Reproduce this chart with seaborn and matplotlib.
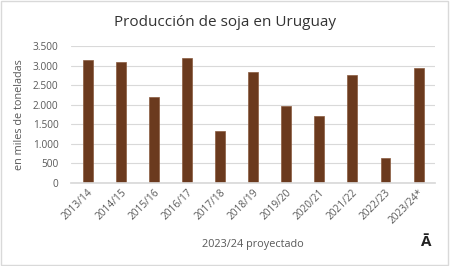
import matplotlib
matplotlib.use("Agg")
import matplotlib.pyplot as plt
import seaborn as sns
import pandas as pd
from matplotlib.ticker import FuncFormatter
from matplotlib.patches import Rectangle

campanas = ["2013/14", "2014/15", "2015/16", "2016/17", "2017/18", "2018/19",
            "2019/20", "2020/21", "2021/22", "2022/23", "2023/24*"]
produccion = [3150, 3100, 2210, 3200, 1330, 2840, 1980, 1705, 2770, 645, 2935]
yticks = [0, 500, 1000, 1500, 2000, 2500, 3000, 3500]

df = pd.DataFrame({"campana": campanas, "produccion": produccion})

sns.set_theme(style="white")
plt.rcParams['font.family'] = ['Open Sans', 'DejaVu Sans']

fig = plt.figure(figsize=(4.5, 2.66), dpi=100)
ax = fig.add_axes([0.158, 0.312, 0.809, 0.515])

sns.barplot(data=df, x="campana", y="produccion", color="#6B3A1E",
            width=0.3, saturation=1, ax=ax, edgecolor="#8a5a3e", linewidth=0.5)

ax.set_ylim(0, 3500)
ax.set_xlim(-0.5, len(campanas) - 0.5)
ax.set_yticks(yticks)
ax.yaxis.set_major_formatter(FuncFormatter(lambda v, p: f"{int(v):,}".replace(",", ".")))
ax.grid(axis="y", color="#D9D9D9", linewidth=0.8)
ax.set_axisbelow(True)
for s in ["top", "right", "left"]:
    ax.spines[s].set_visible(False)
ax.spines["bottom"].set_color("#D9D9D9")
ax.tick_params(axis="both", length=0, colors="#595959", labelsize=7.3)
ax.tick_params(axis="y", pad=9)
ax.tick_params(axis="x", pad=3)
plt.setp(ax.get_xticklabels(), rotation=45, ha="right", rotation_mode="anchor")
ax.set_xlabel("2023/24 proyectado", fontsize=7.8, color="#595959", labelpad=9)
ax.set_ylabel("en miles de toneladas", fontsize=7.8, color="#595959", labelpad=6)

fig.text(0.5, 0.915, "Producción de soja en Uruguay", ha="center", va="center",
         fontsize=11, color="#333333")
fig.text(0.945, 0.09, "Ā", ha="center", va="center", fontsize=11,
         fontweight="bold", color="#222222")

fig.patches.append(Rectangle((0.002, 0.004), 0.994, 0.992, transform=fig.transFigure,
                             fill=False, edgecolor="#D9D9D9", linewidth=1))

fig.savefig("out.png", dpi=100)
